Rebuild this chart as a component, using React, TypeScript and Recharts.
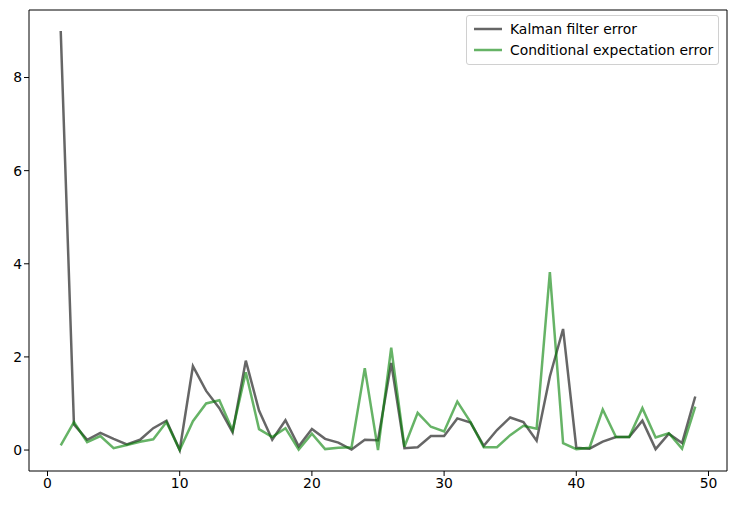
import { LineChart, Line, XAxis, YAxis, ReferenceLine } from "recharts";

const steps = Array.from({ length: 49 }, (_, i) => i + 1);

const kalmanError = [
  9.0, 0.55, 0.22, 0.37, 0.24, 0.12, 0.22, 0.47, 0.63, 0.0,
  1.8, 1.27, 0.9, 0.38, 1.92, 0.85, 0.22, 0.64, 0.08, 0.45,
  0.24, 0.16, 0.01, 0.22, 0.21, 1.87, 0.04, 0.06, 0.3, 0.3,
  0.68, 0.59, 0.09, 0.43, 0.7, 0.6, 0.2, 1.58, 2.6, 0.05,
  0.03, 0.18, 0.28, 0.28, 0.63, 0.02, 0.35, 0.15, 1.15,
];

const condExpError = [
  0.1, 0.6, 0.17, 0.3, 0.04, 0.11, 0.18, 0.23, 0.6, 0.0,
  0.62, 1.0, 1.07, 0.42, 1.67, 0.45, 0.28, 0.47, 0.01, 0.35,
  0.02, 0.05, 0.06, 1.76, 0.0, 2.2, 0.07, 0.8, 0.5, 0.4,
  1.04, 0.6, 0.06, 0.06, 0.32, 0.52, 0.46, 3.82, 0.15, 0.02,
  0.05, 0.87, 0.28, 0.28, 0.9, 0.27, 0.36, 0.03, 0.93,
];

const xTicks = [0, 10, 20, 30, 40, 50];
const yTicks = [0, 2, 4, 6, 8];

const series = [
  { key: "kalman", label: "Kalman filter error", color: "#000000" },
  { key: "cond", label: "Conditional expectation error", color: "#008000" },
];

const data = steps.map((s, i) => ({
  step: s,
  kalman: kalmanError[i],
  cond: condExpError[i],
}));

const font = "'DejaVu Sans', sans-serif";

// legend drawn as an overlay so it doesn't eat into the plot area
function LegendBox() {
  return (
    <div
      style={{
        position: "absolute",
        left: 466,
        top: 15,
        border: "1px solid #d0d0d0",
        borderRadius: 3,
        background: "rgba(255,255,255,0.8)",
        padding: "2px 5px 3px 7px",
        fontFamily: font,
        fontSize: 13.9,
        color: "#000",
      }}
    >
      {series.map((s) => (
        <div key={s.key} style={{ display: "flex", alignItems: "center", height: 21.5 }}>
          <svg width={28} height={4} style={{ marginRight: 8 }}>
            <line x1={0} y1={2} x2={28} y2={2} stroke={s.color} strokeOpacity={0.6} strokeWidth={2.5} />
          </svg>
          <span>{s.label}</span>
        </div>
      ))}
    </div>
  );
}

export default function App() {
  return (
    <div style={{ position: "absolute", left: 0, top: 0, width: 736, height: 505, background: "#fff" }}>
      <LineChart
        width={736}
        height={505}
        data={data}
        margin={{ top: 10, right: 9, bottom: 0, left: 0 }}
      >
        <XAxis
          dataKey="step"
          type="number"
          domain={[-1.4, 51.4]}
          ticks={xTicks}
          allowDataOverflow
          height={34}
          tickSize={5}
          stroke="#000"
          tick={{ fill: "#000", fontSize: 13.9, fontFamily: font }}
        />
        <YAxis
          type="number"
          domain={[-0.45, 9.45]}
          ticks={yTicks}
          allowDataOverflow
          width={29}
          tickSize={5}
          stroke="#000"
          tick={{ fill: "#000", fontSize: 13.9, fontFamily: font }}
        />
        <ReferenceLine y={9.45} stroke="#000" />
        <ReferenceLine x={51.4} stroke="#000" />
        {series.map((s) => (
          <Line
            key={s.key}
            dataKey={s.key}
            name={s.label}
            type="linear"
            stroke={s.color}
            strokeOpacity={0.6}
            strokeWidth={2.5}
            dot={false}
            activeDot={false}
            isAnimationActive={false}
          />
        ))}
      </LineChart>
      <LegendBox />
    </div>
  );
}
